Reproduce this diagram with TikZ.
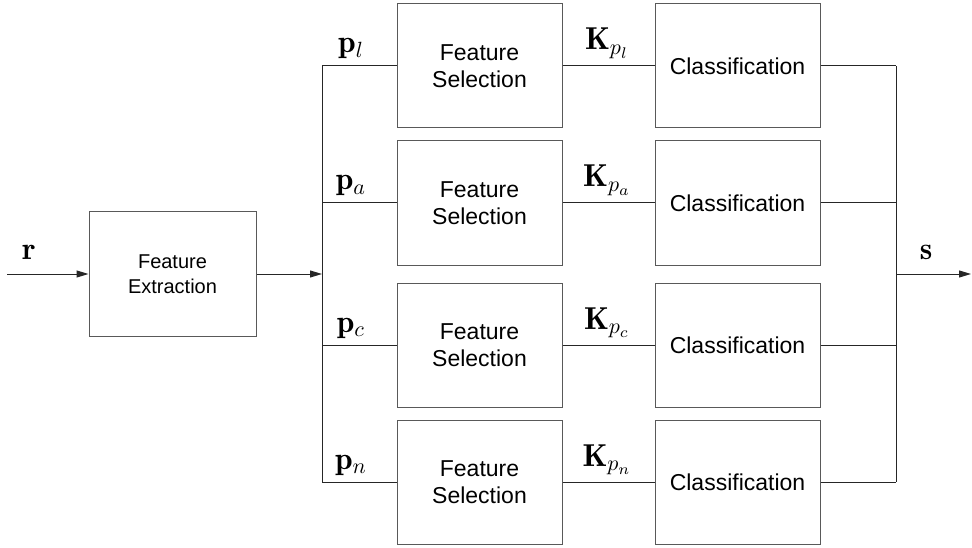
\documentclass[tikz,border=0pt]{standalone}
\usepackage{graphicx}
\usepackage{fontspec}
\newfontfamily\sfx{Liberation Sans}
\DeclareMathSizes{14.4}{14.4}{10}{7}
\newcommand{\mylabmath}[1]{\scalebox{2.2}{\fontsize{14.4}{16}\selectfont$#1$}}
\usetikzlibrary{arrows.meta}
\begin{document}
\begin{tikzpicture}[x=1pt,y=-1pt,
  blk/.style={draw=black!65, line width=1pt, minimum width=165pt, minimum height=124pt, inner sep=0pt, align=center, font=\sfx\fontsize{23}{27.5}\selectfont},
  feblk/.style={blk, minimum width=167pt, font=\sfx\fontsize{20}{24.5}\selectfont},
  wire/.style={draw=black!85, line width=1pt},
  arr/.style={wire, -{Triangle[length=12pt,width=7pt]}},
  lab/.style={anchor=base, inner sep=0pt}
]
\useasboundingbox (0,0) rectangle (972,548);
\node[feblk] (fe) at (172.5,274) {Feature\\Extraction};
\coordinate (in) at (7,274);
\coordinate (lbm) at (322,274);
\coordinate (rbm) at (896,274);
\coordinate (out) at (971,274);
\foreach \i/\y in {1/66,2/203,3/345,4/482}{
  \node[blk] (fs\i) at (479.5,\y) {Feature\\Selection};
  \node[blk] (cl\i) at (737.5,\y) {Classification};
  \coordinate (lb\i) at (322,\y);
  \coordinate (rb\i) at (896,\y);
  \draw[wire] (lb\i) -- (fs\i.west);
  \draw[wire] (fs\i.east) -- (cl\i.west);
  \draw[wire] (cl\i.east) -- (rb\i);
}
\draw[wire] (lb1) -- (lb4);
\draw[wire] (rb1) -- (rb4);
\draw[arr] (in) -- (fe.west);
\draw[arr] (fe.east) -- (lbm);
\draw[arr] (rbm) -- (out);
\node[lab] (r) at (29,260) {\mylabmath{\mathbf{r}}};
\node[lab] (s) at (926,260) {\mylabmath{\mathbf{s}}};
\node[lab] (pl) at (351,53) {\mylabmath{\mathbf{p}_l}};
\node[lab] (pa) at (351,190) {\mylabmath{\mathbf{p}_a}};
\node[lab] (pc) at (351,332) {\mylabmath{\mathbf{p}_c}};
\node[lab] (pn) at (351,469) {\mylabmath{\mathbf{p}_n}};
\node[lab] (kl) at (607,50) {\mylabmath{\mathbf{K}_{p_l}}};
\node[lab] (ka) at (607,187) {\mylabmath{\mathbf{K}_{p_a}}};
\node[lab] (kc) at (607,329) {\mylabmath{\mathbf{K}_{p_c}}};
\node[lab] (kn) at (607,466) {\mylabmath{\mathbf{K}_{p_n}}};
\end{tikzpicture}
\end{document}
